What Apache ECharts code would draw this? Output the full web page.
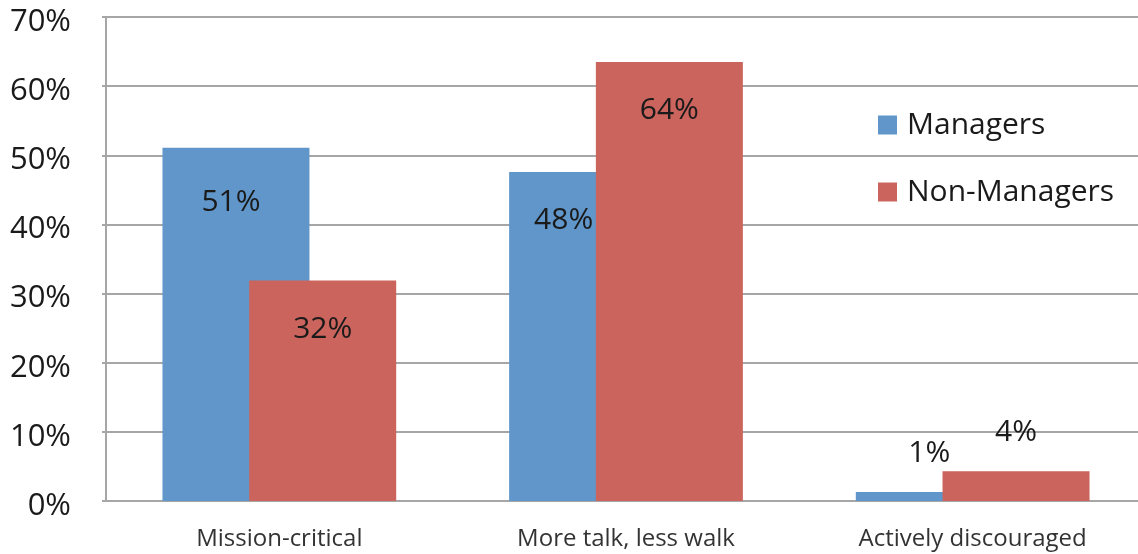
<!DOCTYPE html>
<html>
<head>
<meta charset="utf-8">
<style>
  html, body { margin: 0; padding: 0; background: #fff; }
  #chart { width: 1138px; height: 554px; }
</style>
<script src="https://cdn.jsdelivr.net/npm/echarts@6/dist/echarts.min.js"></script>
</head>
<body>
<div id="chart"></div>
<script>
// 数据（从图上读出的柱高，标签取整显示）
const categories = ['Mission-critical', 'More talk, less walk', 'Actively discouraged'];
const managers = [51.1, 47.6, 1.3];
const nonManagers = [31.9, 63.5, 4.3];
const seriesNames = ['Managers', 'Non-Managers'];
const colorArr = ['#6096c9', '#cb645d'];

const dom = document.getElementById('chart');
const myChart = echarts.init(dom);

// 小数值标签放在柱子上方，大数值放在柱子里面
function buildData(values, seriesIndex) {
    return values.map((v, i) => {
        const small = v < 10;
        const label = {
            position: small ? 'top' : 'insideTop',
            distance: small ? 24 : 34
        };
        // 蓝色标签在原图里略偏左
        if (seriesIndex === 0 && i === 1) label.offset = [-19, 0];
        if (seriesIndex === 0 && i === 0) label.offset = [-5, 6];
        return { value: v, label: label };
    });
}

const seriesArr = [managers, nonManagers].map((vals, index) => ({
    name: seriesNames[index],
    type: 'bar',
    barWidth: 147,
    barGap: '-41%',
    data: buildData(vals, index),
    itemStyle: { color: colorArr[index] },
    label: {
        show: true,
        formatter: p => Math.round(p.value) + '%',
        fontFamily: 'Open Sans',
        fontSize: 30,
        color: '#1a1a1a'
    }
}));

const option = {
    backgroundColor: '#fff',
    animation: false,
    legend: {
        orient: 'vertical',
        left: 878,
        top: 110,
        padding: 0,
        itemWidth: 19,
        itemHeight: 19,
        itemGap: 37,
        icon: 'rect',
        textStyle: {
            fontFamily: 'Open Sans',
            fontSize: 30,
            color: '#1a1a1a',
            padding: [0, 0, 0, 5]
        },
        data: seriesNames
    },
    grid: {
        left: 106,
        top: 17,
        bottom: 53,
        right: -8,
        outerBoundsMode: 'none'
    },
    xAxis: {
        type: 'category',
        data: categories,
        axisTick: { show: false },
        axisLine: { lineStyle: { color: '#a6a6a6', width: 2 } },
        axisLabel: {
            fontFamily: 'Open Sans',
            fontSize: 24,
            color: '#333',
            margin: 26
        }
    },
    yAxis: {
        type: 'value',
        min: 0,
        max: 70,
        interval: 10,
        axisLine: { show: true, lineStyle: { color: '#a6a6a6', width: 2 } },
        axisTick: { show: true, length: 4, lineStyle: { color: '#a6a6a6', width: 2 } },
        splitLine: { lineStyle: { color: '#a6a6a6', width: 2 } },
        axisLabel: {
            formatter: '{v|{value}%}',
            margin: 35,
            rich: {
                v: {
                    fontFamily: 'Open Sans',
                    fontSize: 31,
                    color: '#1a1a1a',
                    padding: [10, 0, 0, 0]
                }
            }
        }
    },
    series: seriesArr
};

myChart.setOption(option);

window.addEventListener('resize', function () {
    myChart.resize();
});
</script>
</body>
</html>
